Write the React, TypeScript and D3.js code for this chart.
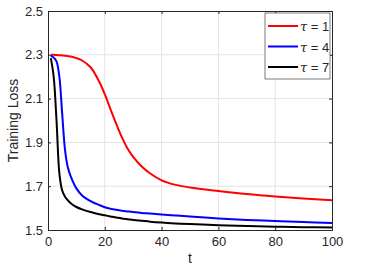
import { useEffect, useRef } from "react";
import * as d3 from "d3";

const tVals = [1, 2, 3, 4, 5, 6, 7, 8, 10, 12, 15, 18, 20, 22, 24, 26, 28, 30, 33, 36, 40, 45, 50, 60, 70, 80, 90, 100];
const tau1 = [2.3, 2.3, 2.299, 2.298, 2.297, 2.296, 2.294, 2.292, 2.285, 2.274, 2.243, 2.178, 2.12, 2.052, 1.986, 1.924, 1.872, 1.834, 1.79, 1.758, 1.727, 1.706, 1.694, 1.678, 1.664, 1.653, 1.644, 1.636];
const tau4 = [2.295, 2.288, 2.27, 2.2, 2.03, 1.865, 1.785, 1.745, 1.69, 1.658, 1.632, 1.614, 1.604, 1.597, 1.592, 1.588, 1.585, 1.582, 1.578, 1.575, 1.571, 1.566, 1.562, 1.553, 1.546, 1.541, 1.536, 1.532];
const tau7 = [2.285, 2.2, 2.0, 1.76, 1.68, 1.652, 1.635, 1.622, 1.605, 1.594, 1.582, 1.572, 1.567, 1.562, 1.557, 1.553, 1.549, 1.546, 1.542, 1.538, 1.534, 1.53, 1.527, 1.522, 1.518, 1.515, 1.513, 1.511];

const seriesNames = ["1", "4", "7"];
const seriesColors = ["#ff0000", "#0000ff", "#000000"];
const xTicks = [0, 20, 40, 60, 80, 100];
const yTicks = [1.5, 1.7, 1.9, 2.1, 2.3, 2.5];

export default function App() {
  const svgRef = useRef(null);

  useEffect(() => {
    const width = 367;
    const height = 269;
    const margin = { top: 11, right: 35, bottom: 39, left: 48 };
    const font = "'Liberation Sans', Arial, sans-serif";

    const svg = d3.select(svgRef.current);
    svg.selectAll("*").remove();
    svg.attr("width", width).attr("height", height);

    const x = d3.scaleLinear().domain([0, 100]).range([margin.left, width - margin.right]);
    const y = d3.scaleLinear().domain([1.5, 2.5]).range([height - margin.bottom, margin.top]);

    svg.append("rect").attr("width", width).attr("height", height).attr("fill", "#fff");

    // grid
    const grid = svg.append("g").attr("stroke", "#e3e3e3").attr("stroke-width", 1);
    xTicks.slice(1, -1).forEach((t) => {
      grid.append("line").attr("x1", x(t)).attr("x2", x(t)).attr("y1", y(1.5)).attr("y2", y(2.5));
    });
    yTicks.slice(1, -1).forEach((v) => {
      grid.append("line").attr("y1", y(v)).attr("y2", y(v)).attr("x1", x(0)).attr("x2", x(100));
    });

    // lines
    const data = [tau1, tau4, tau7];
    const line = d3
      .line<number>()
      .x((_, i) => x(tVals[i]))
      .y((d) => y(d))
      .curve(d3.curveCatmullRom.alpha(0.5));
    data.forEach((s, k) => {
      svg
        .append("path")
        .datum(s)
        .attr("fill", "none")
        .attr("stroke", seriesColors[k])
        .attr("stroke-width", 2)
        .attr("d", line as any);
    });

    // axes
    const axX = svg
      .append("g")
      .attr("transform", `translate(0,${y(1.5)})`)
      .call(d3.axisBottom(x).tickValues(xTicks).tickSize(-3).tickPadding(7));
    const axY = svg
      .append("g")
      .attr("transform", `translate(${x(0)},0)`)
      .call(d3.axisLeft(y).tickValues(yTicks).tickFormat(d3.format(".1f")).tickSize(-3).tickPadding(5));
    [axX, axY].forEach((ax) => {
      ax.select(".domain").attr("stroke", "#262626");
      ax.selectAll(".tick line").attr("stroke", "#262626");
      ax.selectAll("text").attr("fill", "#262626").attr("font-size", 13).attr("font-family", font);
    });
    svg
      .append("g")
      .attr("transform", `translate(0,${y(2.5)})`)
      .call(d3.axisTop(x).tickValues(xTicks).tickSize(-3).tickFormat(() => ""))
      .call((g) => g.selectAll("line,path").attr("stroke", "#262626"));
    svg
      .append("g")
      .attr("transform", `translate(${x(100)},0)`)
      .call(d3.axisRight(y).tickValues(yTicks).tickSize(-3).tickFormat(() => ""))
      .call((g) => g.selectAll("line,path").attr("stroke", "#262626"));

    // axis labels
    svg
      .append("text")
      .attr("x", (x(0) + x(100)) / 2)
      .attr("y", 263)
      .attr("text-anchor", "middle")
      .attr("font-family", font)
      .attr("font-size", 14)
      .attr("fill", "#262626")
      .text("t");
    svg
      .append("text")
      .attr("transform", `translate(18,${(y(1.5) + y(2.5)) / 2}) rotate(-90)`)
      .attr("text-anchor", "middle")
      .attr("font-family", font)
      .attr("font-size", 14)
      .attr("fill", "#262626")
      .text("Training Loss");

    // legend
    const lg = svg.append("g").attr("transform", "translate(265,13)");
    lg.append("rect").attr("width", 65).attr("height", 66).attr("fill", "#fff").attr("stroke", "#262626").attr("stroke-width", 0.6);
    seriesNames.forEach((n, k) => {
      const yy = 13 + k * 20.5;
      lg.append("line").attr("x1", 3).attr("x2", 33).attr("y1", yy).attr("y2", yy).attr("stroke", seriesColors[k]).attr("stroke-width", 2);
      const tx = lg
        .append("text")
        .attr("x", 35)
        .attr("y", yy + 5)
        .attr("font-family", font)
        .attr("font-size", 13)
        .attr("fill", "#262626");
      tx.append("tspan").attr("font-style", "italic").attr("font-family", "'DejaVu Serif', serif").text("τ");
      tx.append("tspan").text(" = " + n);
    });
  }, []);

  return (
    <div style={{ position: "absolute", left: 0, top: 0 }}>
      <svg ref={svgRef}></svg>
    </div>
  );
}
